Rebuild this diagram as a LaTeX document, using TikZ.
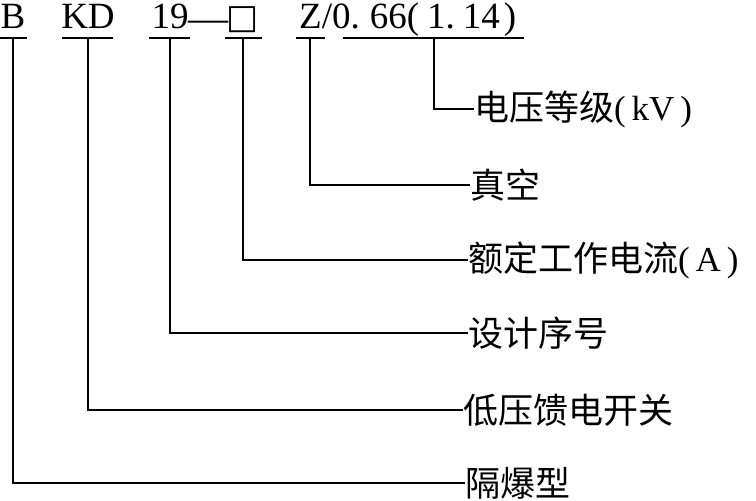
\documentclass[tikz,border=0pt]{standalone}
\usepackage{fontspec}
\setmainfont{Liberation Serif}
\newfontfamily\cjk{Noto Sans CJK SC}
\newfontfamily\symf{DejaVu Sans}
\begin{document}
\begin{tikzpicture}[x=1pt,y=1pt,
  code/.style={font=\fontsize{37}{40}\selectfont, inner sep=0pt, anchor=base},
  lab/.style={font=\fontsize{35}{40}\selectfont\cjk, inner sep=0pt, anchor=west},
  rulel/.style={line width=1.3pt},
  lead/.style={line width=1.3pt}]
\useasboundingbox (0,0) rectangle (756,-501);
% top code
\node[code] (cB) at (13,-28) {B};
\node[code] (cKD) at (88,-28) {KD};
\node[code] (c19) at (170,-28) {19};
\node[code,font=\fontsize{40}{40}\selectfont] (cdash) at (208,-31) {—};
\node[code,font=\fontsize{34}{40}\selectfont\symf] (cbox) at (243,-28) {□};
\node[code,anchor=base west] (cZ) at (299,-28) {Z/0.\hspace{10pt}66(\hspace{8pt}1.\hspace{8pt}14\hspace{4pt})};
% underline coordinates
\coordinate (u1a) at (0,-38);   \coordinate (u1b) at (27,-38);  \coordinate (m1) at (13,-38);
\coordinate (u2a) at (62,-38);  \coordinate (u2b) at (113,-38); \coordinate (m2) at (88,-38);
\coordinate (u3a) at (149,-38); \coordinate (u3b) at (190,-38); \coordinate (m3) at (170,-38);
\coordinate (u4a) at (225,-38); \coordinate (u4b) at (262,-38); \coordinate (m4) at (243,-38);
\coordinate (u5a) at (296,-38); \coordinate (u5b) at (325,-38); \coordinate (m5) at (310,-38);
\coordinate (u6a) at (343,-38); \coordinate (u6b) at (524,-38); \coordinate (m6) at (434,-38);
\foreach \i in {1,...,6} {\draw[rulel] (u\i a) -- (u\i b);}
% labels
\node[lab] (L1) at (474,-109) {电压等级{\rmfamily(\,kV\,)}};
\node[lab] (L2) at (470,-185) {真空};
\node[lab] (L3) at (468,-260) {额定工作电流{\rmfamily(\,A\,)}};
\node[lab] (L4) at (468,-333) {设计序号};
\node[lab] (L5) at (463,-410) {低压馈电开关};
\node[lab] (L6) at (465,-483) {隔爆型};
% leaders
\draw[lead] (m6) |- (L1.west);
\draw[lead] (m5) |- (L2.west);
\draw[lead] (m4) |- (L3.west);
\draw[lead] (m3) |- (L4.west);
\draw[lead] (m2) |- (L5.west);
\draw[lead] (m1) |- (L6.west);
\end{tikzpicture}
\end{document}
